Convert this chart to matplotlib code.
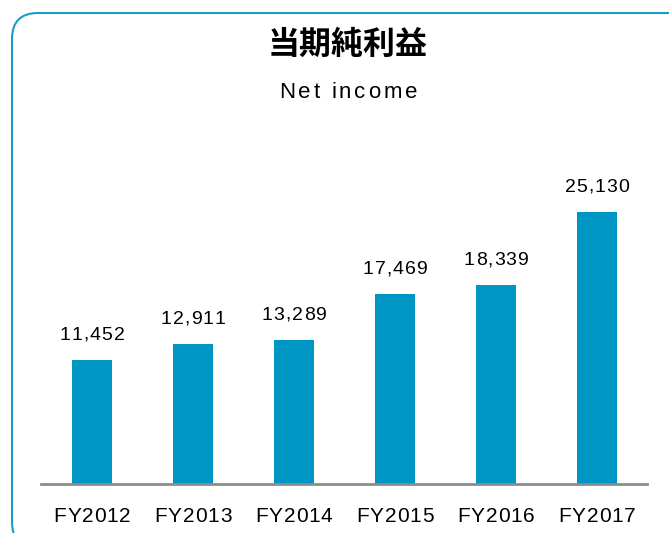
import matplotlib
matplotlib.use("Agg")
import matplotlib.pyplot as plt
from matplotlib.patches import FancyBboxPatch
from matplotlib.transforms import IdentityTransform

years = ["FY2012", "FY2013", "FY2014", "FY2015", "FY2016", "FY2017"]
net_income = [11452, 12911, 13289, 17469, 18339, 25130]

bar_color = "#0096c3"
W, H = 669, 533

plt.rcParams["font.family"] = ["Liberation Sans", "DejaVu Sans"]

fig = plt.figure(figsize=(W / 100, H / 100), dpi=100)

# rounded frame (pixel coords)
frame = FancyBboxPatch((12, -15), 700, H - 13 + 15,
                       boxstyle="round,pad=0,rounding_size=26",
                       transform=IdentityTransform(), fill=False,
                       edgecolor="#1b9bc7", linewidth=1.5)
fig.add_artist(frame)

ax = fig.add_axes([41 / W, 1 - 483.5 / H, (647 - 41) / W, (483.5 - 158.8) / H])
x = list(range(len(years)))
ax.bar(x, net_income, width=0.396, color=bar_color, zorder=2)
ax.set_xlim(-0.505, 5.495)
ax.set_ylim(0, 30000)
for s in ["top", "right", "left"]:
    ax.spines[s].set_visible(False)
ax.spines["bottom"].set_color("#8c8c8c")
ax.spines["bottom"].set_linewidth(2)
ax.set_yticks([])
ax.set_xticks(x)
ax.set_xticklabels([])
ax.tick_params(axis="x", length=0)


def spaced_text(cx, cy, s, spacing, va="center", **kw):
    # draw text with extra letter spacing, centred on cx; cy in pixels from top
    r = fig.canvas.get_renderer()
    widths = []
    for ch in s:
        t = fig.text(0, 0, ch if ch != " " else "i", **kw)
        w = t.get_window_extent(r).width
        if ch == " ":
            t2 = fig.text(0, 0, "i i", **kw)
            w = t2.get_window_extent(r).width - 2 * w
            t2.remove()
        widths.append(w)
        t.remove()
    total = sum(widths) + spacing * (len(s) - 1)
    pos = cx - total / 2
    for ch, w in zip(s, widths):
        fig.text(pos / W, 1 - cy / H, ch, ha="left", va=va, **kw)
        pos += w + spacing


# x tick labels and value labels, positioned through the axes transform
for xi, v, lab in zip(x, net_income, years):
    px, py0 = ax.transData.transform((xi, 0))
    _, py = ax.transData.transform((xi, v))
    spaced_text(px, H - py0 + 38.5, lab, 0.8, va="baseline", fontsize=15)
    spaced_text(px, H - py - 20, f"{v:,}", 1.0, va="baseline", fontsize=14)

fig.text(348 / W, 1 - 45 / H, "当期純利益", ha="center", va="center",
         fontsize=23, fontweight="bold",
         family=["Noto Sans CJK JP", "DejaVu Sans"])

spaced_text(348, 93, "Net income", 2.8, fontsize=16)

fig.savefig("out.png", dpi=100)
